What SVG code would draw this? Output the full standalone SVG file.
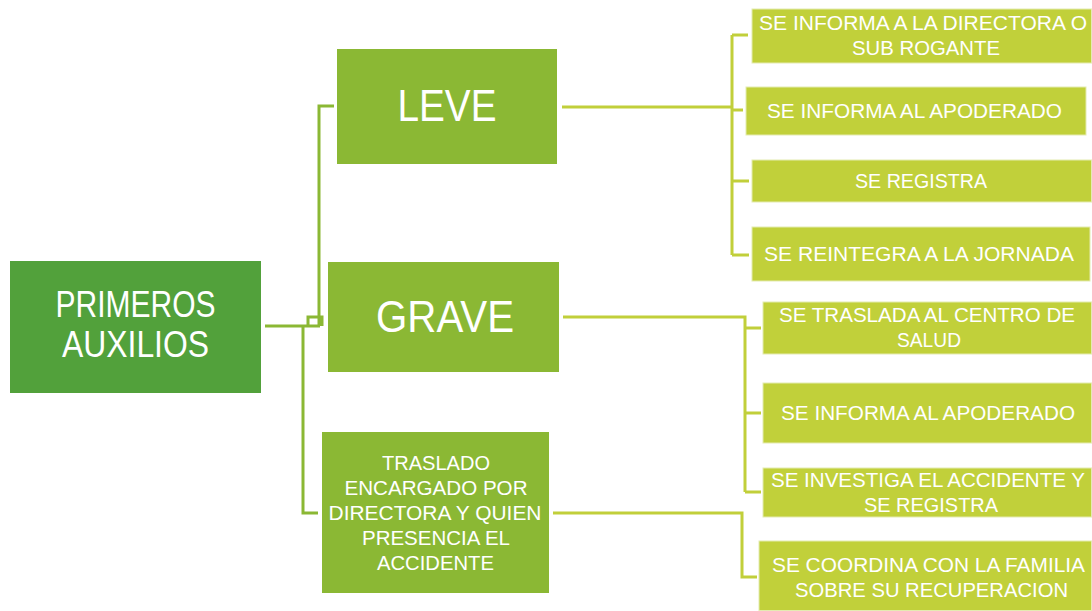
<svg xmlns="http://www.w3.org/2000/svg" width="1092" height="611" viewBox="0 0 1092 611">
<style>
.root{fill:#52A13B}
.l1{fill:#8BB834}
.l2{fill:#C1D03A;stroke:#E4EBB0;stroke-width:1}
.t{font-family:"Liberation Sans","DejaVu Sans",sans-serif;fill:#fff;text-anchor:middle}
.s{font-size:21px}
.m{font-size:21px}
.c1{fill:none;stroke:#8BB834;stroke-width:3}
.c2{fill:none;stroke:#C1CF3A;stroke-width:3}
</style>
<rect width="1092" height="611" fill="#fff"/>
<g id="connectors">
<path class="c1" d="M265,326 H320 M319,326 V106 H334 M308,326 V317 H322 V326 M303,326 V513 H318"/>
<path class="c2" d="M562,107 H732 M732,35 V255 M732,35 H748 M732,110 H743 M732,181 H749 M732,255 H749"/>
<path class="c2" d="M563,317 H745 V492 M745,328 H761 M745,413 H761 M745,492 H761"/>
<path class="c2" d="M553,513 H742 V577 H757"/>
</g>
<g id="root"><rect class="root" x="10" y="261" width="251" height="132"/>
<text class="t" x="135.5" y="317" font-size="36" textLength="160" lengthAdjust="spacingAndGlyphs">PRIMEROS</text>
<text class="t" x="135.5" y="357" font-size="36" textLength="147" lengthAdjust="spacingAndGlyphs">AUXILIOS</text></g>
<g id="leve"><rect class="l1" x="337" y="49" width="220" height="115"/>
<text class="t" x="447" y="121" font-size="45" textLength="99" lengthAdjust="spacingAndGlyphs">LEVE</text></g>
<g id="grave"><rect class="l1" x="328" y="262" width="231" height="110"/>
<text class="t" x="445" y="332" font-size="45" textLength="138" lengthAdjust="spacingAndGlyphs">GRAVE</text></g>
<g id="traslado"><rect class="l1" x="322" y="432" width="227" height="161"/>
<text class="t m" x="436" y="470" textLength="108" lengthAdjust="spacingAndGlyphs">TRASLADO</text>
<text class="t m" x="436" y="495" textLength="183" lengthAdjust="spacingAndGlyphs">ENCARGADO POR</text>
<text class="t m" x="435" y="520" textLength="213" lengthAdjust="spacingAndGlyphs">DIRECTORA Y QUIEN</text>
<text class="t m" x="436" y="545" textLength="148" lengthAdjust="spacingAndGlyphs">PRESENCIA EL</text>
<text class="t m" x="435.5" y="570" textLength="117" lengthAdjust="spacingAndGlyphs">ACCIDENTE</text></g>
<g id="n1"><rect class="l2" x="752" y="9" width="339.5" height="54"/>
<text class="t s" x="923" y="30" textLength="328" lengthAdjust="spacingAndGlyphs">SE INFORMA A LA DIRECTORA O</text>
<text class="t s" x="926" y="55" textLength="148" lengthAdjust="spacingAndGlyphs">SUB ROGANTE</text></g>
<g id="n2"><rect class="l2" x="746" y="87" width="340" height="48"/>
<text class="t s" x="914.5" y="118" textLength="295" lengthAdjust="spacingAndGlyphs">SE INFORMA AL APODERADO</text></g>
<g id="n3"><rect class="l2" x="752" y="160" width="339.5" height="42"/>
<text class="t s" x="921" y="188" textLength="132" lengthAdjust="spacingAndGlyphs">SE REGISTRA</text></g>
<g id="n4"><rect class="l2" x="752" y="227" width="338" height="54"/>
<text class="t s" x="919" y="261" textLength="310" lengthAdjust="spacingAndGlyphs">SE REINTEGRA A LA JORNADA</text></g>
<g id="n5"><rect class="l2" x="763" y="302" width="328.5" height="52"/>
<text class="t s" x="927" y="322" textLength="296" lengthAdjust="spacingAndGlyphs">SE TRASLADA AL CENTRO DE</text>
<text class="t s" x="929" y="347" textLength="64" lengthAdjust="spacingAndGlyphs">SALUD</text></g>
<g id="n6"><rect class="l2" x="763" y="383" width="328.5" height="60"/>
<text class="t s" x="928" y="420" textLength="294" lengthAdjust="spacingAndGlyphs">SE INFORMA AL APODERADO</text></g>
<g id="n7"><rect class="l2" x="763" y="468" width="328.5" height="49"/>
<text class="t s" x="928" y="487" textLength="314" lengthAdjust="spacingAndGlyphs">SE INVESTIGA EL ACCIDENTE Y</text>
<text class="t s" x="931" y="512" textLength="134" lengthAdjust="spacingAndGlyphs">SE REGISTRA</text></g>
<g id="n8"><rect class="l2" x="759" y="541" width="332.5" height="69.5"/>
<text class="t s" x="928.5" y="572" textLength="313" lengthAdjust="spacingAndGlyphs">SE COORDINA CON LA FAMILIA</text>
<text class="t s" x="931.5" y="597" textLength="273" lengthAdjust="spacingAndGlyphs">SOBRE SU RECUPERACION</text></g>
</svg>
